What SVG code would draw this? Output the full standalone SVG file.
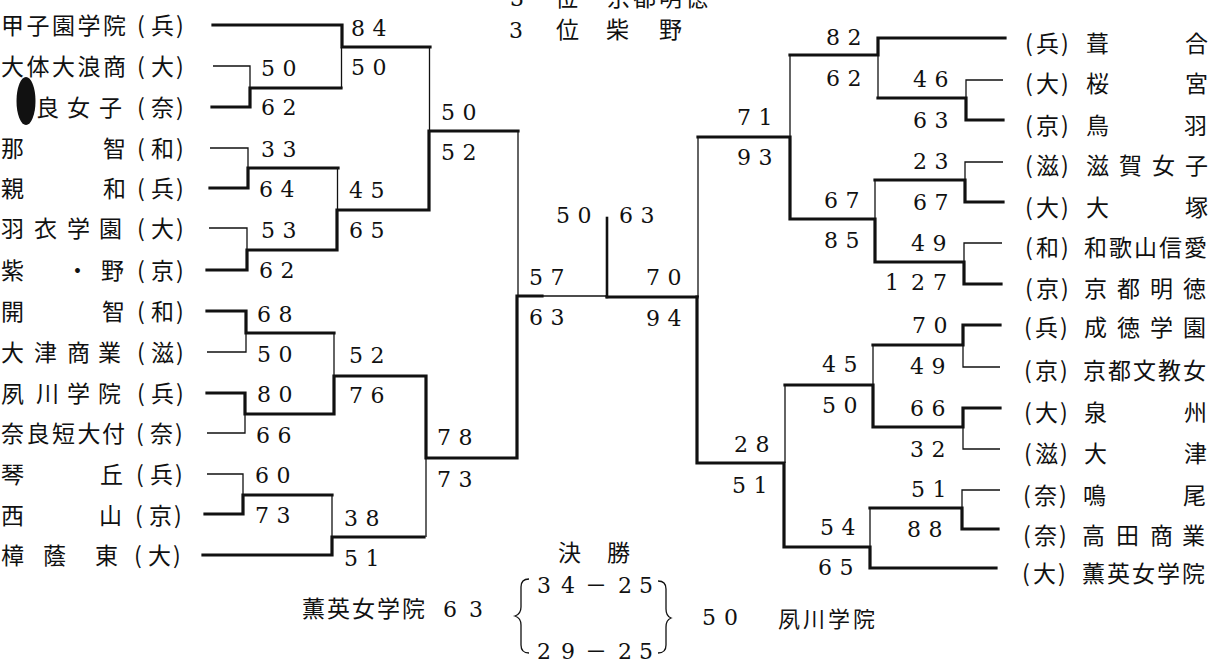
<svg xmlns="http://www.w3.org/2000/svg" width="1229" height="662" viewBox="0 0 1229 662">
<style>
.n{font-family:"Noto Sans CJK JP","Noto Sans CJK SC",sans-serif;font-size:23px;fill:#111}
.s{font-family:"DejaVu Serif","Liberation Serif",serif;font-size:22px;letter-spacing:7.5px;fill:#111}
.tk{stroke:#111;stroke-width:3.2;fill:none;stroke-linejoin:miter;stroke-linecap:square}
.tn{stroke:#111;stroke-width:1.3;fill:none}
</style>
<rect width="1229" height="662" fill="#fff"/>

<!-- header -->
<g id="header">
<text class="s" x="510" y="6">3</text>
<text class="n" x="555 607 633 659 685" y="6">位京都明徳</text>
<text class="s" x="509" y="38">3</text>
<text class="n" x="556 606 659" y="38">位柴野</text>
</g>

<!-- connectors -->
<g id="connectors">
<!-- left thick -->
<path class="tk" d="M213,25 H342 V47 H430"/>
<path class="tk" d="M212,107 H250 V88 H341"/>
<path class="tk" d="M210,188 H248 V168 H338"/>
<path class="tk" d="M207,270 H247 V250 H337 V210 H429 V131 H518"/>
<path class="tk" d="M207,311 H246 V333 H334"/>
<path class="tk" d="M207,393 H245 V414 H334 V376 H426 V458 H517 V296 H542"/>
<path class="tk" d="M205,514 H243 V495 H332"/>
<path class="tk" d="M203,555 H332 V537 H424"/>
<!-- left thin -->
<path class="tn" d="M213,66 H250 V88"/>
<path class="tn" d="M210,148 H248 V168"/>
<path class="tn" d="M209,228 H247 V250"/>
<path class="tn" d="M341.5,47 V88"/>
<path class="tn" d="M337.5,168 V210"/>
<path class="tn" d="M429.5,47 V131"/>
<path class="tn" d="M518,131 V296"/>
<path class="tn" d="M207,352 H246 V333"/>
<path class="tn" d="M207,433 H245 V414"/>
<path class="tn" d="M334,333 V376"/>
<path class="tn" d="M426,458 V537"/>
<path class="tn" d="M207,474 H243 V495"/>
<path class="tn" d="M332,495 V537"/>
<path class="tn" d="M542,296 H607"/>
<!-- centre -->
<path class="tk" d="M607,218 V297" style="stroke-width:2.6"/>
<path class="tk" d="M607,297 H697"/>
<!-- right thick -->
<path class="tk" d="M1005,38 H878 V55 H790"/>
<path class="tk" d="M1003,120 H966 V98 H878"/>
<path class="tk" d="M1003,202 H965 V180 H875"/>
<path class="tk" d="M1001,284 H964 V262 H875 V219 H790 V137 H698"/>
<path class="tk" d="M1000,325 H963 V345 H873"/>
<path class="tk" d="M1000,408 H963 V427 H873 V385 H785"/>
<path class="tk" d="M998,529 H962 V508 H870"/>
<path class="tk" d="M996,568 H870 V547 H784 V463 H697 V297"/>
<!-- right thin -->
<path class="tn" d="M1003,80 H966 V98"/>
<path class="tn" d="M878,55 V98"/>
<path class="tn" d="M790,55 V137"/>
<path class="tn" d="M1003,162 H965 V180"/>
<path class="tn" d="M875,180 V219"/>
<path class="tn" d="M1002,243 H964 V262"/>
<path class="tn" d="M698,137 V297"/>
<path class="tn" d="M1000,367 H963 V345"/>
<path class="tn" d="M873,345 V385"/>
<path class="tn" d="M1000,449 H963 V427"/>
<path class="tn" d="M785,385 V463"/>
<path class="tn" d="M1000,490 H962 V508"/>
<path class="tn" d="M870,508 V547"/>
</g>

<!-- left teams -->
<g id="L01"><text class="n" x="1 26.5 52 77.5 103" y="33.5">甲子園学院</text><text class="n" x="137 151 176" y="33.5">(兵)</text></g>
<g id="L02"><text class="n" x="1 26.5 52 77.5 103" y="74.5">大体大浪商</text><text class="n" x="137 151 176" y="74.5">(大)</text></g>
<g id="L03"><text class="n" x="36 67 99" y="115.5">良女子</text><text class="n" x="137 151 176" y="115.5">(奈)</text>
<ellipse cx="26" cy="101" rx="9.5" ry="24" fill="#111"/></g>
<g id="L04"><text class="n" x="1 103" y="156.5">那智</text><text class="n" x="137 151 176" y="156.5">(和)</text></g>
<g id="L05"><text class="n" x="1 103" y="196.5">親和</text><text class="n" x="137 151 176" y="196.5">(兵)</text></g>
<g id="L06"><text class="n" x="1 34 67 99" y="236.5">羽衣学園</text><text class="n" x="137 151 176" y="236.5">(大)</text></g>
<g id="L07"><text class="n" x="1 66 101" y="278.5">紫・野</text><text class="n" x="137 151 176" y="278.5">(京)</text></g>
<g id="L08"><text class="n" x="1 102" y="319.5">開智</text><text class="n" x="137 151 176" y="319.5">(和)</text></g>
<g id="L09"><text class="n" x="1 34 67 98" y="360.5">大津商業</text><text class="n" x="137 151 176" y="360.5">(滋)</text></g>
<g id="L10"><text class="n" x="1 36 67 98" y="401.5">夙川学院</text><text class="n" x="137 151 176" y="401.5">(兵)</text></g>
<g id="L11"><text class="n" x="1 26.5 52 77.5 102" y="441.5">奈良短大付</text><text class="n" x="136 150 175" y="441.5">(奈)</text></g>
<g id="L12"><text class="n" x="1 100" y="482.5">琴丘</text><text class="n" x="136 150 175" y="482.5">(兵)</text></g>
<g id="L13"><text class="n" x="1 99" y="523.5">西山</text><text class="n" x="135 149 174" y="523.5">(京)</text></g>
<g id="L14"><text class="n" x="1 43 95" y="563.5">樟蔭東</text><text class="n" x="134 148 173" y="563.5">(大)</text></g>

<!-- right teams -->
<g id="R01"><text class="n" x="1025 1036 1061" y="51.5">(兵)</text><text class="n" x="1086 1185" y="51.5">葺合</text></g>
<g id="R02"><text class="n" x="1025 1036 1061" y="91.5">(大)</text><text class="n" x="1086 1185" y="91.5">桜宮</text></g>
<g id="R03"><text class="n" x="1025 1036 1061" y="133.5">(京)</text><text class="n" x="1086 1184" y="133.5">鳥羽</text></g>
<g id="R04"><text class="n" x="1025 1036 1061" y="173.5">(滋)</text><text class="n" x="1086 1119 1152 1185" y="173.5">滋賀女子</text></g>
<g id="R05"><text class="n" x="1025 1036 1061" y="215.5">(大)</text><text class="n" x="1086 1185" y="215.5">大塚</text></g>
<g id="R06"><text class="n" x="1025 1036 1061" y="255.5">(和)</text><text class="n" x="1084 1109 1134 1159 1184" y="255.5">和歌山信愛</text></g>
<g id="R07"><text class="n" x="1025 1036 1061" y="296.5">(京)</text><text class="n" x="1084 1117 1150 1183" y="296.5">京都明徳</text></g>
<g id="R08"><text class="n" x="1024 1035 1060" y="335.5">(兵)</text><text class="n" x="1084 1117 1150 1183" y="335.5">成徳学園</text></g>
<g id="R09"><text class="n" x="1024 1035 1060" y="378.5">(京)</text><text class="n" x="1083 1108 1133 1158 1183" y="378.5">京都文教女</text></g>
<g id="R10"><text class="n" x="1024 1035 1060" y="420.5">(大)</text><text class="n" x="1084 1184" y="420.5">泉州</text></g>
<g id="R11"><text class="n" x="1024 1035 1060" y="461.5">(滋)</text><text class="n" x="1084 1184" y="461.5">大津</text></g>
<g id="R12"><text class="n" x="1023 1034 1059" y="503.5">(奈)</text><text class="n" x="1083 1183" y="503.5">鳴尾</text></g>
<g id="R13"><text class="n" x="1023 1034 1059" y="543.5">(奈)</text><text class="n" x="1082 1116 1150 1182" y="543.5">高田商業</text></g>
<g id="R14"><text class="n" x="1022 1033 1058" y="581.5">(大)</text><text class="n" x="1082 1107 1132 1157 1182" y="581.5">薫英女学院</text></g>

<!-- scores -->
<g id="scores">
<text class="s" x="351" y="36">84</text>
<text class="s" x="351" y="75">50</text>
<text class="s" x="261" y="76">50</text>
<text class="s" x="261" y="115">62</text>
<text class="s" x="261" y="157">33</text>
<text class="s" x="259" y="197">64</text>
<text class="s" x="349" y="198">45</text>
<text class="s" x="261" y="238">53</text>
<text class="s" x="349" y="238">65</text>
<text class="s" x="259" y="278">62</text>
<text class="s" x="257" y="322">68</text>
<text class="s" x="257" y="362">50</text>
<text class="s" x="349" y="363">52</text>
<text class="s" x="257" y="402">80</text>
<text class="s" x="349" y="403">76</text>
<text class="s" x="256" y="443">66</text>
<text class="s" x="255" y="483">60</text>
<text class="s" x="255" y="523">73</text>
<text class="s" x="344" y="526">38</text>
<text class="s" x="344" y="566">51</text>
<text class="s" x="441" y="120">50</text>
<text class="s" x="441" y="160">52</text>
<text class="s" x="437" y="445">78</text>
<text class="s" x="437" y="487">73</text>
<text class="s" x="529" y="285">57</text>
<text class="s" x="529" y="325">63</text>
<text class="s" x="646" y="285">70</text>
<text class="s" x="646" y="326">94</text>
<text class="s" x="556" y="223">50</text>
<text class="s" x="619" y="223">63</text>
<text class="s" x="826" y="45">82</text>
<text class="s" x="826" y="86">62</text>
<text class="s" x="913" y="87">46</text>
<text class="s" x="913" y="128">63</text>
<text class="s" x="737" y="125">71</text>
<text class="s" x="737" y="165">93</text>
<text class="s" x="913" y="169">23</text>
<text class="s" x="913" y="210">67</text>
<text class="s" x="824" y="208">67</text>
<text class="s" x="824" y="248">85</text>
<text class="s" x="911" y="251">49</text>
<text class="s" x="885 911 933" y="290" style="letter-spacing:0">127</text>
<text class="s" x="912" y="333">70</text>
<text class="s" x="910" y="374">49</text>
<text class="s" x="822" y="372">45</text>
<text class="s" x="822" y="413">50</text>
<text class="s" x="910" y="416">66</text>
<text class="s" x="910" y="457">32</text>
<text class="s" x="734" y="452">28</text>
<text class="s" x="732" y="493">51</text>
<text class="s" x="911" y="497">51</text>
<text class="s" x="907" y="537">88</text>
<text class="s" x="820" y="535">54</text>
<text class="s" x="818" y="575">65</text>
</g>

<!-- final -->
<g id="final">
<text class="n" x="558 607" y="561">決勝</text>
<text class="n" x="302 327 352 377 402" y="617">薫英女学院</text>
<text class="s" x="443" y="617" style="letter-spacing:12px">63</text>
<path class="tn" d="M529,579 Q521,579 521,587 L521,607 Q521,614 515,616 Q521,618 521,625 L521,645 Q521,653 529,653"/>
<text class="s" x="537 561 585 618 639" y="593" style="letter-spacing:0">34<tspan class="n" style="font-size:22px">－</tspan>25</text>
<text class="s" x="537 561 585 618 639" y="659" style="letter-spacing:0">29<tspan class="n" style="font-size:22px">－</tspan>25</text>
<path class="tn" d="M658,581 Q666,581 666,589 L666,609 Q666,616 671,618 Q666,620 666,627 L666,645 Q666,653 658,653"/>
<text class="s" x="702" y="625" style="letter-spacing:8px">50</text>
<text class="n" x="778 803 828 853" y="627" style="font-size:22px">夙川学院</text>
</g>
</svg>
